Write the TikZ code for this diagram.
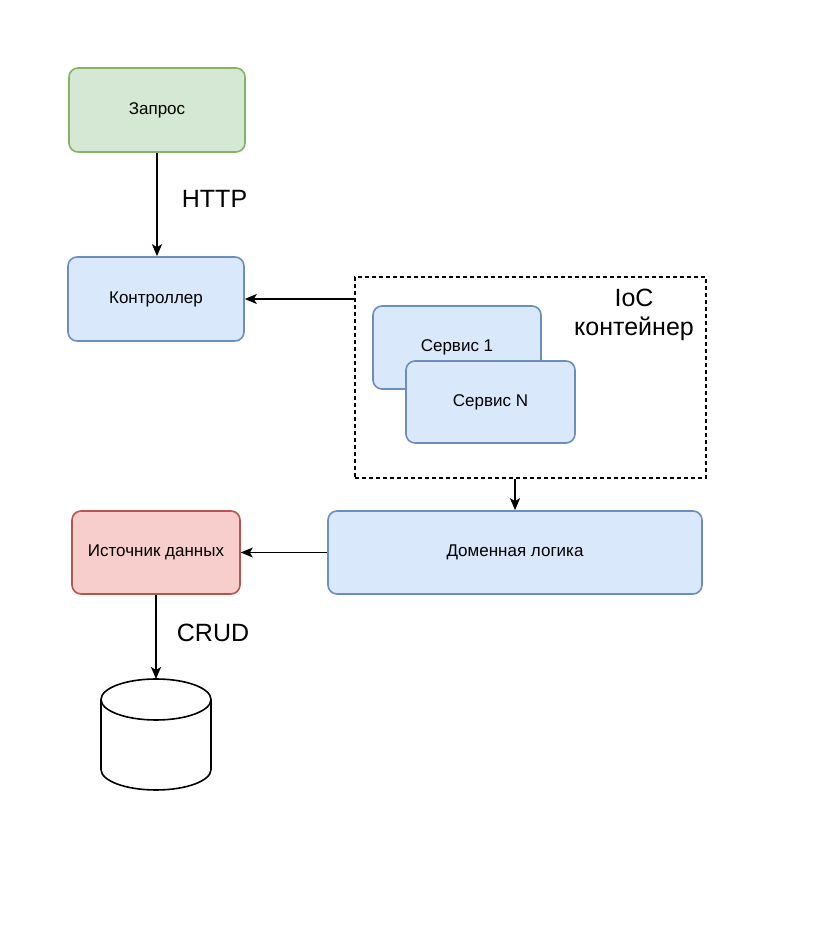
\documentclass[tikz,border=0pt]{standalone}
\usepackage{fontspec}
\setmainfont{Liberation Sans}
\usetikzlibrary{arrows.meta, positioning, shapes.geometric}

\definecolor{greenfill}{HTML}{D5E8D4}
\definecolor{greenline}{HTML}{82B366}
\definecolor{bluefill}{HTML}{DAE8FC}
\definecolor{blueline}{HTML}{6C8EBF}
\definecolor{redfill}{HTML}{F8CECC}
\definecolor{redline}{HTML}{B85450}

\begin{document}
\begin{tikzpicture}[
    x=1pt, y=1pt,
    box/.style={rectangle, draw, rounded corners=9pt, line width=1.6pt, align=center, inner sep=0pt, font=\fontsize{17}{20}\selectfont},
    bluebox/.style={box, fill=bluefill, draw=blueline},
    biglabel/.style={font=\fontsize{25}{29}\selectfont, align=center, inner sep=0pt},
    arrow/.style={-{Stealth[length=12pt, width=10pt, inset=3pt]}, line width=1.8pt}
]
\useasboundingbox (0,0) rectangle (828,946);

\node[box, fill=greenfill, draw=greenline, minimum width=176pt, minimum height=84pt] (request) at (157,836) {Запрос};
\node[bluebox, minimum width=176pt, minimum height=84pt] (ctrl) at (156,647) {Контроллер};

% IoC container
\node[draw, dashed, dash pattern=on 4pt off 3pt, line width=1.6pt, minimum width=351pt, minimum height=201pt] (ioc) at (530.5,568.5) {};
\node[bluebox, minimum width=168pt, minimum height=83pt] (svc1) at (457,598.5) {Сервис 1};
\node[bluebox, minimum width=169pt, minimum height=82pt] (svcn) at (490.5,544) {Сервис N};
\node[biglabel] (ioclabel) at (634,631) {IoC\\контейнер};

\node[bluebox, minimum width=374pt, minimum height=83pt] (domain) at (515,393.5) {Доменная логика};
\node[box, fill=redfill, draw=redline, minimum width=168pt, minimum height=83pt] (source) at (156,393.5) {Источник данных};

% database cylinder
\node[rectangle, minimum width=110pt, minimum height=111pt, inner sep=0pt, outer sep=0pt] (db) at (156,211.5) {};
\draw[line width=1.6pt, fill=white] ([yshift=-20.5pt]db.north west) -- ([yshift=20.5pt]db.south west)
    arc[start angle=180, end angle=360, x radius=55pt, y radius=20.5pt] -- ([yshift=-20.5pt]db.north east);
\draw[line width=1.6pt] ([yshift=-20.5pt]db.north west)
    arc[start angle=180, end angle=-180, x radius=55pt, y radius=20.5pt];

\draw[arrow] (request) -- (request |- ctrl.north) node[biglabel, pos=0.45, right=24pt] {HTTP};
\draw[arrow] (ioc.west |- ctrl) -- (ctrl);
\draw[arrow] (ioc.south -| domain) -- (domain);
\draw[arrow] (domain) -- (source);
\draw[arrow] (source) -- node[biglabel, right=20pt, yshift=4pt] {CRUD} (db);
\end{tikzpicture}
\end{document}
